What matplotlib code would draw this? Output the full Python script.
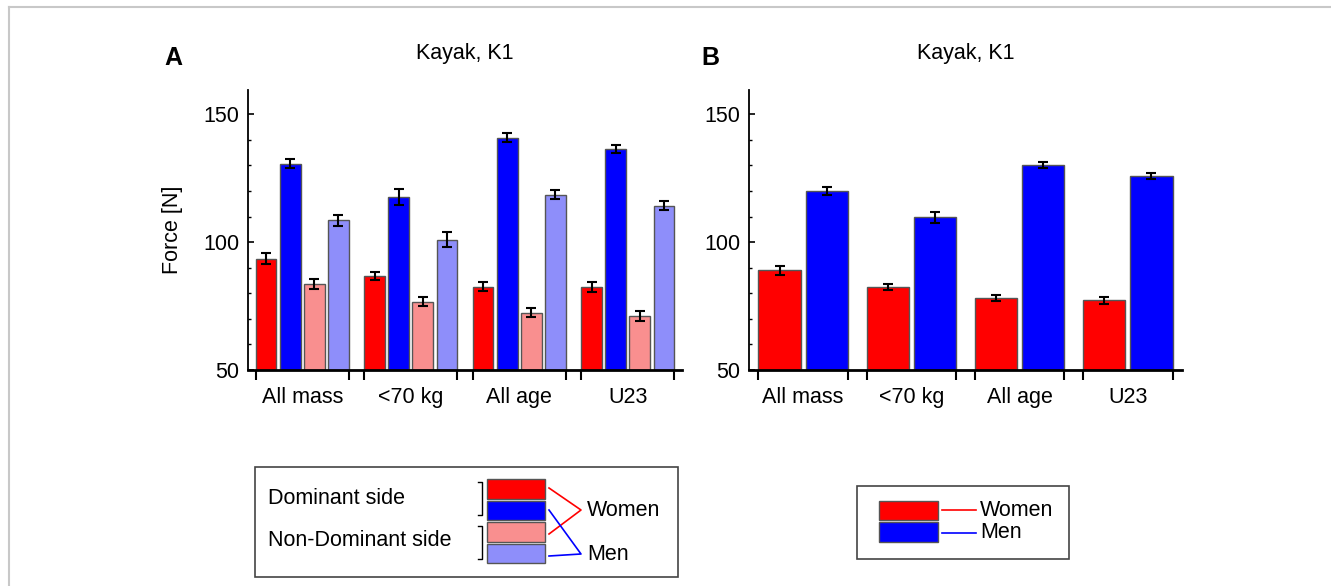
import matplotlib

matplotlib.use("Agg")
import matplotlib.pyplot as plt
import numpy as np
from matplotlib.lines import Line2D
from matplotlib.patches import Rectangle

plt.rcParams["font.family"] = ["Liberation Sans", "DejaVu Sans"]

CATEGORIES = ["All mass", "<70 kg", "All age", "U23"]

# Panel A: dominant / non-dominant side, women and men
A_WOMEN_DOM = [93.6, 86.8, 82.6, 82.6]
A_WOMEN_DOM_ERR = [2.1, 1.7, 1.7, 2.0]
A_MEN_DOM = [130.7, 117.6, 140.9, 136.5]
A_MEN_DOM_ERR = [1.8, 3.0, 1.6, 1.5]
A_WOMEN_NON = [83.5, 76.7, 72.4, 71.2]
A_WOMEN_NON_ERR = [2.0, 1.7, 1.7, 2.0]
A_MEN_NON = [108.5, 101.0, 118.6, 114.3]
A_MEN_NON_ERR = [2.0, 3.0, 1.6, 1.6]

# Panel B: both sides combined
B_WOMEN = [89.0, 82.3, 78.0, 77.3]
B_WOMEN_ERR = [1.7, 1.2, 1.2, 1.3]
B_MEN = [120.1, 109.7, 130.1, 125.8]
B_MEN_ERR = [1.6, 2.2, 1.2, 1.2]

RED = "#FF0000"
BLUE = "#0000FF"
PINK = "#F98F8F"
LIGHT_BLUE = "#8E8EFA"
EDGE = "#555555"
FS = 15.5

W, H = 1331, 586


def style_axis(ax, edges):
    """Common axis styling."""
    ax.set_xlim(-0.5, 3.5)
    ax.set_ylim(50, 159.5)
    ax.spines["top"].set_visible(False)
    ax.spines["right"].set_visible(False)
    ax.spines["bottom"].set_linewidth(2.0)
    ax.spines["left"].set_linewidth(1.3)
    ax.set_yticks([50, 100, 150])
    ax.set_yticks(np.arange(60, 160, 10), minor=True)
    ax.tick_params(axis="y", which="major", direction="in", length=4, width=1.2, labelsize=FS, pad=6)
    ax.tick_params(axis="y", which="minor", direction="in", length=2, width=1.0)
    ax.set_xticks(range(len(CATEGORIES)))
    ax.set_xticklabels(CATEGORIES)
    ax.set_xticks(edges, minor=True)
    ax.tick_params(axis="x", which="major", length=0, labelsize=FS, pad=12)
    ax.tick_params(axis="x", which="minor", direction="out", length=7, width=1.5)
    ax.set_title("Kayak, K1", fontsize=FS, pad=22)


fig = plt.figure(figsize=(W / 100, H / 100), dpi=100)

# ---- panel A ----
ax_a = fig.add_axes([248 / W, 1 - 370 / H, 434 / W, 280 / H])
x = np.arange(len(CATEGORIES))
pitch = 0.2216
width = 0.19
series_a = [
    (A_WOMEN_DOM, A_WOMEN_DOM_ERR, RED),
    (A_MEN_DOM, A_MEN_DOM_ERR, BLUE),
    (A_WOMEN_NON, A_WOMEN_NON_ERR, PINK),
    (A_MEN_NON, A_MEN_NON_ERR, LIGHT_BLUE),
]
for i, (vals, errs, color) in enumerate(series_a):
    ax_a.bar(
        x + (i - 1.5) * pitch, np.array(vals) - 50, width, bottom=50,
        color=color, edgecolor=EDGE, linewidth=1.0,
        yerr=errs, capsize=3.5, error_kw={"elinewidth": 1.5, "capthick": 1.5, "ecolor": "black"},
    )
edge_a = 1.5 * pitch + width / 2
style_axis(ax_a, np.concatenate([x - edge_a, x + edge_a]))
ax_a.set_ylabel("Force [N]", fontsize=FS, labelpad=15)

# ---- panel B ----
ax_b = fig.add_axes([749 / W, 1 - 370 / H, 433 / W, 280 / H])
pitch_b = 0.436
width_b = 0.39
for i, (vals, errs, color) in enumerate([(B_WOMEN, B_WOMEN_ERR, RED), (B_MEN, B_MEN_ERR, BLUE)]):
    ax_b.bar(
        x + (i - 0.5) * pitch_b, np.array(vals) - 50, width_b, bottom=50,
        color=color, edgecolor=EDGE, linewidth=1.0,
        yerr=errs, capsize=3.5, error_kw={"elinewidth": 1.5, "capthick": 1.5, "ecolor": "black"},
    )
edge_b = 0.5 * pitch_b + width_b / 2
style_axis(ax_b, np.concatenate([x - edge_b, x + edge_b]))

# ---- overlay in pixel coordinates for letters, legends and frame ----
ov = fig.add_axes([0, 0, 1, 1], zorder=5)
ov.set_xlim(0, W)
ov.set_ylim(H, 0)
ov.axis("off")
ov.patch.set_alpha(0)

ov.text(173, 58, "A", fontsize=18, fontweight="bold", ha="center", va="center")
ov.text(710, 58, "B", fontsize=18, fontweight="bold", ha="center", va="center")

# page frame lines
ov.add_line(Line2D([9, W], [7, 7], color="#c8c8c8", lw=1.5))
ov.add_line(Line2D([9, 9], [7, H], color="#c8c8c8", lw=1.5))

# legend A
ov.add_patch(Rectangle((255, 467), 423, 110, fill=False, edgecolor="#444444", lw=1.2))
ov.text(268, 498, "Dominant side", fontsize=FS, va="center")
ov.text(268, 541, "Non-Dominant side", fontsize=FS, va="center")
rect_y = [479, 500.5, 522, 543.5]
for (_, _, color), ry in zip(series_a, rect_y):
    ov.add_patch(Rectangle((487, ry), 58, 19.5, facecolor=color, edgecolor=EDGE, lw=1.0))
for y0, y1 in [(482, 515), (526, 559)]:
    ov.add_line(Line2D([478, 482, 482, 478], [y0, y0, y1, y1], color="black", lw=1.0))
ov.add_line(Line2D([549, 581, 549], [488, 510, 534], color=RED, lw=1.2))
ov.add_line(Line2D([549, 581, 549], [510, 554, 556], color=BLUE, lw=1.2))
ov.text(587, 510, "Women", fontsize=FS, va="center")
ov.text(587, 554, "Men", fontsize=FS, va="center")

# legend B
ov.add_patch(Rectangle((857, 486), 212, 73, fill=False, edgecolor="#444444", lw=1.2))
ov.add_patch(Rectangle((879, 500.5), 59, 19.5, facecolor=RED, edgecolor=EDGE, lw=1.0))
ov.add_patch(Rectangle((879, 522), 59, 20, facecolor=BLUE, edgecolor=EDGE, lw=1.0))
ov.add_line(Line2D([942, 976], [510, 510], color=RED, lw=1.2))
ov.add_line(Line2D([942, 976], [533, 533], color=BLUE, lw=1.2))
ov.text(980, 510, "Women", fontsize=FS, va="center")
ov.text(980, 533, "Men", fontsize=FS, va="center")

fig.savefig("out.png", dpi=100)
